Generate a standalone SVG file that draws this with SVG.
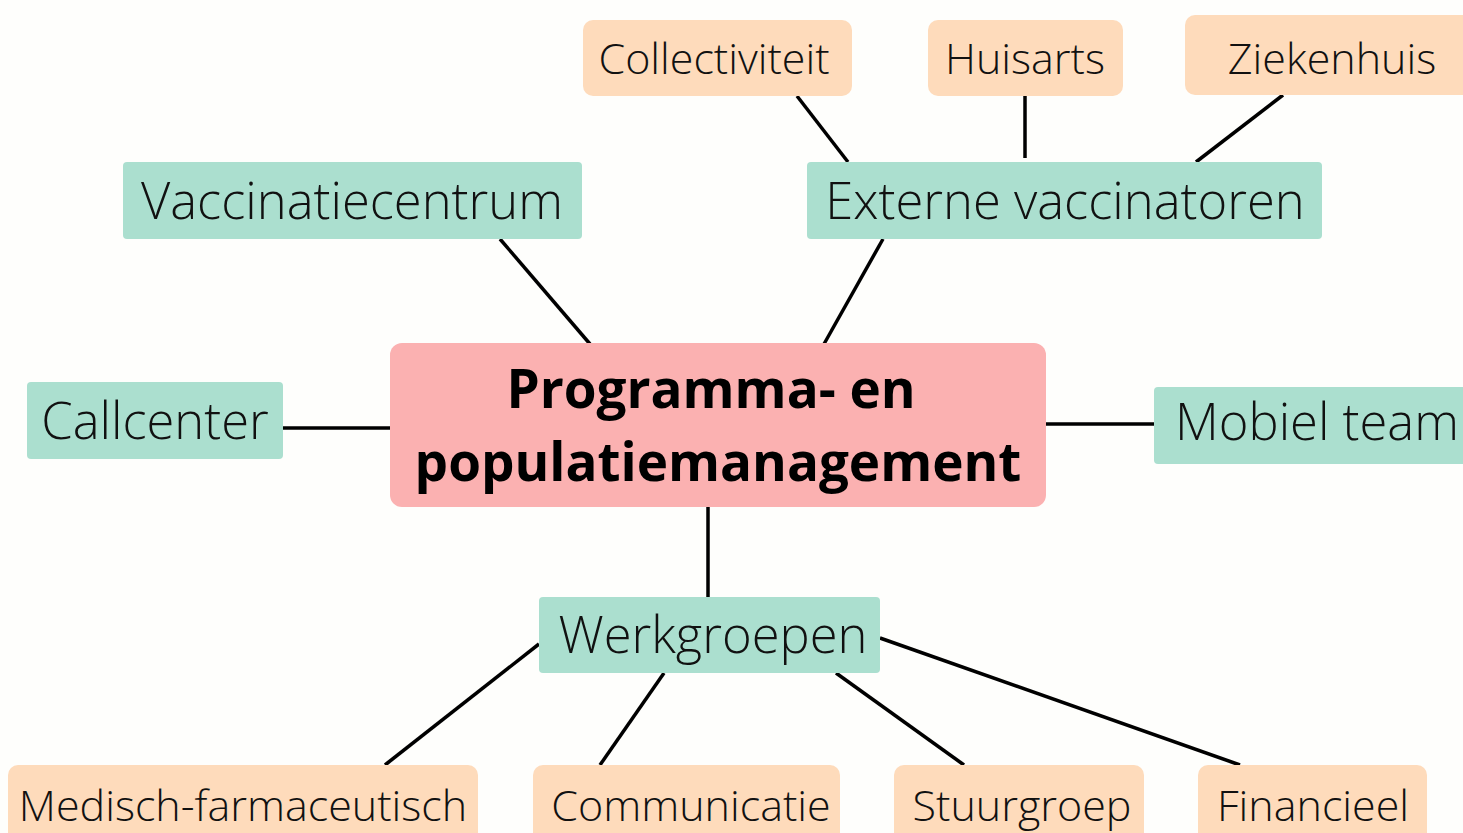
<svg xmlns="http://www.w3.org/2000/svg" width="1463" height="833" viewBox="0 0 1463 833">
<style>
.peach{fill:#fedbbb}
.teal{fill:#abdfcf}
.pink{fill:#fbb1b1}
.t{font-family:"Open Sans","Liberation Sans",sans-serif;font-weight:300;fill:#111;text-anchor:middle}
.s{font-size:43px}
.l{font-size:50.7px}
.b{font-family:"Open Sans","Liberation Sans",sans-serif;font-weight:700;font-size:53px;fill:#000;text-anchor:middle}
.c line{stroke:#000;stroke-width:3.5}
</style>
<rect width="1463" height="833" fill="#fefefc"/>
<g class="c">
<line x1="797" y1="96" x2="848" y2="162"/>
<line x1="1025" y1="96" x2="1025" y2="158"/>
<line x1="1283" y1="95" x2="1196" y2="162"/>
<line x1="500" y1="239" x2="590" y2="344"/>
<line x1="883" y1="239" x2="824" y2="344"/>
<line x1="283" y1="428" x2="390" y2="428"/>
<line x1="1046" y1="424" x2="1154" y2="424"/>
<line x1="708" y1="507" x2="708" y2="597"/>
<line x1="539" y1="644" x2="385" y2="765"/>
<line x1="664" y1="673" x2="600" y2="765"/>
<line x1="836" y1="673" x2="964" y2="765"/>
<line x1="880" y1="638" x2="1240" y2="765"/>
</g>
<g id="collectiviteit"><rect class="peach" x="583" y="20" width="269" height="76" rx="10"/><text class="t s" x="714" y="74">Collectiviteit</text></g>
<g id="huisarts"><rect class="peach" x="928" y="20" width="195" height="76" rx="10"/><text class="t s" x="1025" y="74">Huisarts</text></g>
<g id="ziekenhuis"><rect class="peach" x="1185" y="15" width="290" height="80" rx="10"/><text class="t s" x="1332" y="74">Ziekenhuis</text></g>
<g id="vaccinatiecentrum"><rect class="teal" x="123" y="162" width="459" height="77" rx="4"/><text class="t l" x="352" y="219">Vaccinatiecentrum</text></g>
<g id="externe"><rect class="teal" x="807" y="162" width="515" height="77" rx="4"/><text class="t l" x="1065" y="219">Externe vaccinatoren</text></g>
<g id="callcenter"><rect class="teal" x="27" y="382" width="256" height="77" rx="4"/><text class="t l" x="155" y="439">Callcenter</text></g>
<g id="center"><rect class="pink" x="390" y="343" width="656" height="164" rx="12"/><text class="b" x="711" y="408">Programma- en</text><text class="b" x="718" y="481">populatiemanagement</text></g>
<g id="mobiel"><rect class="teal" x="1154" y="387" width="320" height="77" rx="4"/><text class="t l" x="1317" y="440">Mobiel team</text></g>
<g id="werkgroepen"><rect class="teal" x="539" y="597" width="341" height="76" rx="4"/><text class="t l" x="713" y="653">Werkgroepen</text></g>
<g id="medisch"><rect class="peach" x="8" y="765" width="470" height="80" rx="10"/><text class="t s" x="243" y="821">Medisch-farmaceutisch</text></g>
<g id="communicatie"><rect class="peach" x="533" y="765" width="307" height="80" rx="10"/><text class="t s" x="691" y="821">Communicatie</text></g>
<g id="stuurgroep"><rect class="peach" x="894" y="765" width="250" height="80" rx="10"/><text class="t s" x="1022" y="821">Stuurgroep</text></g>
<g id="financieel"><rect class="peach" x="1198" y="765" width="229" height="80" rx="10"/><text class="t s" x="1313" y="821">Financieel</text></g>
</svg>
